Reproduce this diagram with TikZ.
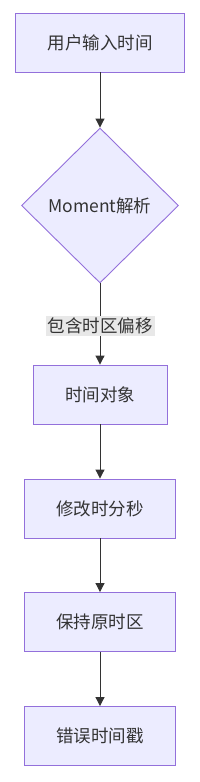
\documentclass[tikz,border=0pt]{standalone}
\usepackage{fontspec}
\setmainfont{Noto Sans CJK SC}
\usetikzlibrary{arrows.meta,positioning,shapes.geometric}
\definecolor{boxfill}{HTML}{ECECFF}
\definecolor{boxline}{HTML}{9370DB}
\definecolor{ink}{HTML}{333333}
\definecolor{lblfill}{HTML}{E8E8E8}

\begin{document}
\begin{tikzpicture}[x=1pt, y=1pt,
    font=\fontsize{17.5}{20}\selectfont, text=ink,
    stepbox/.style={draw=boxline, fill=boxfill, line width=0.9pt,
                    minimum height=59pt, inner xsep=32pt},
    choice/.style={diamond, draw=boxline, fill=boxfill, line width=0.9pt,
                   minimum width=157pt, minimum height=155pt, inner sep=0pt},
    flow/.style={draw=ink, line width=1pt, -{Triangle[length=9pt, width=9pt]}},
    edgelbl/.style={fill=lblfill, inner sep=2pt}]
  \useasboundingbox (0,0) rectangle (200,-782);
  % steps of the flow
  \node[stepbox] (input)  at (100,-42.5) {用户输入时间};
  \node[choice]  (parse)  at (100,-205.5) {Moment解析};
  \node[stepbox] (obj)    at (100,-394.5) {时间对象};
  \node[stepbox] (modify) at (100,-508.5) {修改时分秒};
  \node[stepbox] (keep)   at (100,-622) {保持原时区};
  \node[stepbox] (wrong)  at (100,-736) {错误时间戳};
  % connectors
  \draw[flow] (input) -- (parse);
  \draw[flow] (parse) -- node[edgelbl, pos=0.52] {包含时区偏移} (obj);
  \foreach \a/\b in {obj/modify, modify/keep, keep/wrong}
    \draw[flow] (\a) -- (\b);
\end{tikzpicture}
\end{document}
